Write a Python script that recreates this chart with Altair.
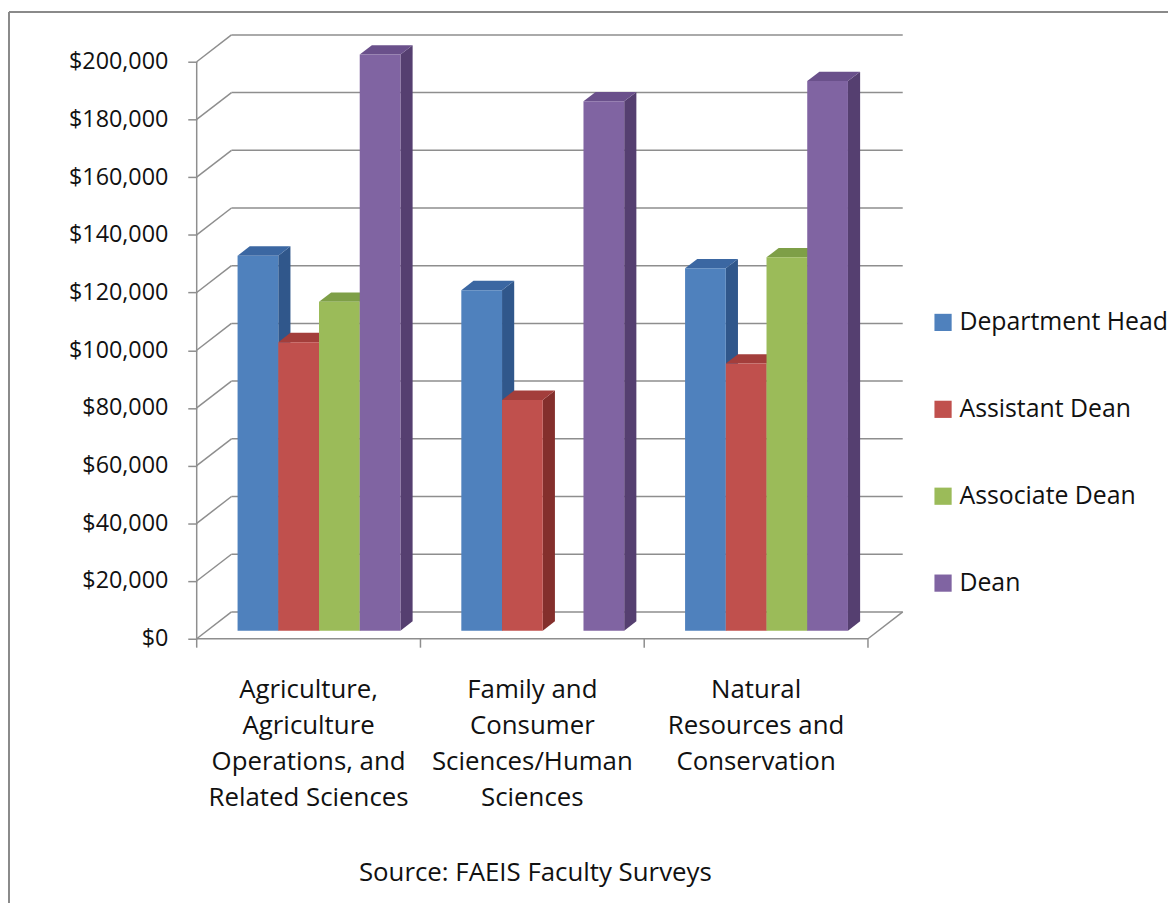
import altair as alt
import pandas as pd

# ---------------- data ----------------
categories = [
    "Agriculture, Agriculture Operations, and Related Sciences",
    "Family and Consumer Sciences/Human Sciences",
    "Natural Resources and Conservation",
]
category_lines = [
    ["Agriculture,", "Agriculture", "Operations, and", "Related Sciences"],
    ["Family and", "Consumer", "Sciences/Human", "Sciences"],
    ["Natural", "Resources and", "Conservation"],
]
series = ["Department Head", "Assistant Dean", "Associate Dean", "Dean"]
department_head = [130000, 118000, 125600]
assistant_dean = [100000, 80000, 92600]
associate_dean = [114000, None, 129400]
dean = [199700, 183500, 190500]
y_ticks = [0, 20000, 40000, 60000, 80000, 100000, 120000, 140000, 160000, 180000, 200000]
source_note = "Source: FAEIS Faculty Surveys"

# ---------------- styling ----------------
front_colors = ["#4F81BD", "#C0504D", "#9BBB59", "#8064A2"]
side_colors = ["#30578B", "#842F2C", "#6C8A36", "#553F70"]
top_colors = ["#3B67A2", "#A33E3B", "#7E9F47", "#6A508B"]
GRID = "#8E8E8E"
FONT = "Open Sans"

# projection constants (pixels -> data units)
PX_CAT = 225.3                 # pixels per category on the front plane
PX_USD = 581 / 200000          # pixels per dollar
DX = 35 / PX_CAT               # depth shift of the back wall (x)
DY = 27 / PX_USD               # depth shift of the back wall (y)
BAR_W = 41 / PX_CAT
F1, F2 = 0.30, 0.65            # bar front / back depth fractions
VIEW_W, VIEW_H = 712, 608
X_MAX = VIEW_W / PX_CAT
Y_MAX = VIEW_H / PX_USD

values_by_series = [department_head, assistant_dean, associate_dean, dean]

front_rows, side_rows, top_rows = [], [], []
for j, (s, vals) in enumerate(zip(series, values_by_series)):
    for i, v in enumerate(vals):
        if v is None:
            continue
        x1 = i + 0.5 - 2 * BAR_W + j * BAR_W + F1 * DX
        x2 = x1 + BAR_W
        base = F1 * DY
        top = v + F1 * DY
        ddx = (F2 - F1) * DX
        ddy = (F2 - F1) * DY
        bid = f"b{i}{j}"
        front_rows.append(dict(series=s, category=categories[i], value=v,
                               x1=x1, x2=x2, y1=base, y2=top))
        side_rows += [
            dict(bid=bid, px=x2, ylo=base, yhi=top, face=side_colors[j]),
            dict(bid=bid, px=x2 + ddx, ylo=base + ddy, yhi=top + ddy, face=side_colors[j]),
        ]
        top_rows += [
            dict(bid=bid, px=x1, ylo=top, yhi=top, face=top_colors[j]),
            dict(bid=bid, px=x1 + ddx, ylo=top, yhi=top + ddy, face=top_colors[j]),
            dict(bid=bid, px=x2, ylo=top, yhi=top + ddy, face=top_colors[j]),
            dict(bid=bid, px=x2 + ddx, ylo=top + ddy, yhi=top + ddy, face=top_colors[j]),
        ]

front_df = pd.DataFrame(front_rows)
side_df = pd.DataFrame(side_rows)
top_df = pd.DataFrame(top_rows)

n_cat = len(categories)
grid_df = pd.DataFrame([dict(x=DX, x2=n_cat + DX, y=v + DY, tick=v) for v in y_ticks])
diag_df = pd.DataFrame([dict(x=0, x2=DX, y=v, y2=v + DY) for v in y_ticks] +
                       [dict(x=n_cat, x2=n_cat + DX, y=0, y2=DY)])
floor_df = pd.DataFrame([dict(x=0, x2=n_cat, y=0)])
yaxis_df = pd.DataFrame([dict(x=0, y=0, y2=max(y_ticks))])
cat_tick_df = pd.DataFrame([dict(x=float(i)) for i in range(n_cat + 1)])
cat_label_df = pd.DataFrame([dict(x=i + 0.5, label="\n".join(lines))
                             for i, lines in enumerate(category_lines)])

xs = alt.Scale(domain=[0, X_MAX], nice=False, zero=False, padding=0)
ys = alt.Scale(domain=[0, Y_MAX], nice=False, zero=False, padding=0)

y_axis = alt.Axis(
    values=y_ticks, format="$,.0f", domain=False, grid=False, title=None,
    tickSize=9, tickColor=GRID, tickWidth=1.5,
    labelFont=FONT, labelFontSize=23.5, labelPadding=20, labelColor="#111111",
)


def Y(field):
    return alt.Y(field, scale=ys, axis=y_axis, stack=None)


def X(field):
    return alt.X(field, scale=xs, axis=None)


grid = alt.Chart(grid_df).mark_rule(color=GRID, strokeWidth=1.5).encode(
    x=X("x:Q"), x2="x2:Q", y=Y("y:Q"),
)
diag = alt.Chart(diag_df).mark_rule(color=GRID, strokeWidth=1.5).encode(
    x=X("x:Q"), x2="x2:Q", y=Y("y:Q"), y2="y2:Q",
)
floor = alt.Chart(floor_df).mark_rule(color=GRID, strokeWidth=1.5).encode(
    x=X("x:Q"), x2="x2:Q", y=Y("y:Q"),
)
yline = alt.Chart(yaxis_df).mark_rule(color=GRID, strokeWidth=1.5).encode(
    x=X("x:Q"), y=Y("y:Q"), y2="y2:Q",
)
cat_ticks = alt.Chart(cat_tick_df).mark_rule(color=GRID, strokeWidth=1.5).encode(
    x=X("x:Q"), y=alt.value(VIEW_H), y2=alt.value(VIEW_H + 9),
)
cat_labels = alt.Chart(cat_label_df).mark_text(
    lineBreak="\n", font=FONT, fontSize=26, lineHeight=36, color="#111111",
    align="center", baseline="top",
).encode(
    x=X("x:Q"), y=alt.value(VIEW_H + 39), text="label:N",
)
source = alt.Chart(alt.Data(values=[{"note": source_note}])).mark_text(
    font=FONT, fontSize=26, color="#111111", align="center", baseline="middle",
).encode(
    x=alt.value(341), y=alt.value(844), text="note:N",
)
sides = alt.Chart(side_df).mark_area(interpolate="linear").encode(
    x=X("px:Q"), y=Y("ylo:Q"), y2="yhi:Q",
    fill=alt.Fill("face:N", scale=None), detail="bid:N",
)
tops = alt.Chart(top_df).mark_area(interpolate="linear").encode(
    x=X("px:Q"), y=Y("ylo:Q"), y2="yhi:Q",
    fill=alt.Fill("face:N", scale=None), detail="bid:N",
)
fronts = alt.Chart(front_df).mark_rect().encode(
    x=X("x1:Q"), x2="x2:Q", y=Y("y1:Q"), y2="y2:Q",
    color=alt.Color(
        "series:N",
        scale=alt.Scale(domain=series, range=front_colors),
        legend=alt.Legend(
            orient="none", legendX=739, legendY=277, title=None, direction="vertical",
            symbolType="square", symbolSize=300, symbolStrokeWidth=0,
            labelFont=FONT, labelFontSize=25, labelLimit=400, labelColor="#111111",
            rowPadding=61.5, labelOffset=4, padding=0,
        ),
    ),
    tooltip=["category:N", "series:N", alt.Tooltip("value:Q", format="$,.0f")],
)

border_top = alt.Chart(alt.Data(values=[{}])).mark_rule(color="#8A8A8A", strokeWidth=2).encode(
    x=alt.value(-189), x2=alt.value(980), y=alt.value(-23)
)
border_left = alt.Chart(alt.Data(values=[{}])).mark_rule(color="#8A8A8A", strokeWidth=2).encode(
    x=alt.value(-189), y=alt.value(-23), y2=alt.value(875)
)

chart = alt.layer(
    grid, diag, floor, yline, cat_ticks, sides, tops, fronts, cat_labels, source,
    border_top, border_left,
).properties(
    width=VIEW_W, height=VIEW_H,
    padding={"left": 190, "top": 24, "right": 266, "bottom": 263},
    autosize="none",
    background="white",
).configure_view(stroke=None)

chart.save("out.html", embed_options={"renderer": "svg", "actions": False})
